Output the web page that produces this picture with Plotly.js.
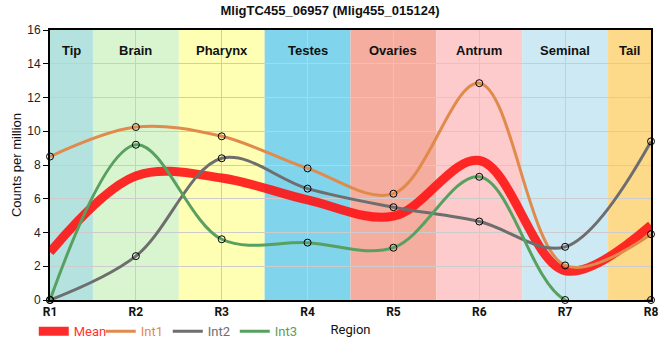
<!DOCTYPE html>
<html>
<head>
<meta charset="utf-8">
<script src="https://cdn.plot.ly/plotly-3.0.1.min.js"></script>
<style>html,body{margin:0;padding:0;background:#fff}#chart{width:660px;height:360px}</style>
</head>
<body>
<div id="chart"></div>
<script>
// ---- data ----
const positions = ["R1","R2","R3","R4","R5","R6","R7","R8"];
const int1 = [8.5, 10.25, 9.7, 7.8, 6.3, 12.85, 2.05, 3.9];
const int2 = [0, 2.6, 8.4, 6.6, 5.5, 4.65, 3.15, 9.4];
const int3 = [0, 9.2, 3.6, 3.4, 3.1, 7.3, 0, 0];
const regionNames = ["Tip","Brain","Pharynx","Testes","Ovaries","Antrum","Seminal","Tail"];
const regionStart = [0, 0.5, 1.5, 2.5, 3.5, 4.5, 5.5, 6.5];
const regionEnd   = [0.5, 1.5, 2.5, 3.5, 4.5, 5.5, 6.5, 7];
const regionColors = ["#b3e2df","#d9f5cf","#ffffb4","#80d4eb","#f5ad9f","#fdcbcc","#cde9f3","#fdd98a"];
const yTicks = [0,2,4,6,8,10,12,14,16];

const xIdx = positions.map((_, i) => i);
const meanVals = int1.map((v, i) => (v + int2[i] + int3[i]) / 3);

const series = [
  {name: "Int1", y: int1, color: "#e08a4c"},
  {name: "Int2", y: int2, color: "#6e6e6e"},
  {name: "Int3", y: int3, color: "#58a060"}
];

const traces = [];
traces.push({
  x: xIdx, y: meanVals, type: "scatter", mode: "lines",
  name: '<span style="color:#ff3333">Mean</span>',
  line: {color: "rgba(255,20,20,0.9)", width: 9, shape: "spline", smoothing: 1.0},
  hoverinfo: "skip"
});
series.forEach(s => {
  traces.push({
    x: xIdx, y: s.y, type: "scatter", mode: "lines",
    name: '<span style="color:' + s.color + '">' + s.name + '</span>',
    line: {color: s.color, width: 3, shape: "spline", smoothing: 1.0}
  });
});
series.forEach(s => {
  traces.push({
    x: xIdx, y: s.y, type: "scatter", mode: "markers", showlegend: false,
    cliponaxis: false,
    marker: {symbol: "circle-open", size: 7, color: "#000", line: {width: 1, color: "#000"}}
  });
});

const shapes = regionNames.map((r, i) => ({
  type: "rect", xref: "x", yref: "paper", layer: "below",
  x0: regionStart[i], x1: regionEnd[i], y0: 0, y1: 1,
  fillcolor: regionColors[i], line: {width: 0}
}));
const annotations = regionNames.map((r, i) => ({
  text: "<b>" + r + "</b>", xref: "x", yref: "paper",
  x: (regionStart[i] + regionEnd[i]) / 2, y: 0.96, showarrow: false,
  font: {family: "Liberation Sans, Arial, sans-serif", size: 13, color: "#111"}
}));

const layout = {
  width: 660, height: 360,
  margin: {l: 50, r: 9, t: 30, b: 60},
  paper_bgcolor: "#fff", plot_bgcolor: "#fff",
  title: {text: "<b>MligTC455_06957 (Mlig455_015124)</b>", x: 0.5, xref: "container",
          y: 0.972, yref: "container", yanchor: "middle",
          font: {family: "Liberation Sans, Arial, sans-serif", size: 13, color: "#111"}},
  xaxis: {
    range: [0, 7], tickvals: xIdx, ticktext: positions,
    showgrid: true, gridcolor: "#cccccc", gridwidth: 1,
    showline: true, linecolor: "#000", linewidth: 2, mirror: true,
    ticks: "", zeroline: false,
    tickfont: {family: "Roboto, sans-serif", size: 12, color: "#111", weight: "bold"},
    title: {text: "Region", standoff: 6, font: {family: "Roboto, sans-serif", size: 13, color: "#111"}}
  },
  yaxis: {
    range: [0, 16], tickvals: yTicks,
    showgrid: true, gridcolor: "#cccccc", gridwidth: 1,
    showline: true, linecolor: "#000", linewidth: 2, mirror: true,
    ticks: "outside", ticklen: 5, tickcolor: "#000", zeroline: false,
    tickfont: {family: "Liberation Sans, Arial, sans-serif", size: 12, color: "#222"},
    title: {text: "Counts per million", standoff: 3, font: {family: "Liberation Sans, Arial, sans-serif", size: 13, color: "#111"}}
  },
  legend: {orientation: "h", x: -0.027, xanchor: "left", y: -0.06, yanchor: "top",
           font: {family: "Roboto, sans-serif", size: 13}, itemwidth: 30, tracegroupgap: 0,
           entrywidth: 22, entrywidthmode: "pixels",
           bgcolor: "rgba(0,0,0,0)"},
  shapes: shapes,
  annotations: annotations,
  showlegend: true
};

Plotly.newPlot("chart", traces, layout, {displayModeBar: false, staticPlot: true});
</script>
</body>
</html>
